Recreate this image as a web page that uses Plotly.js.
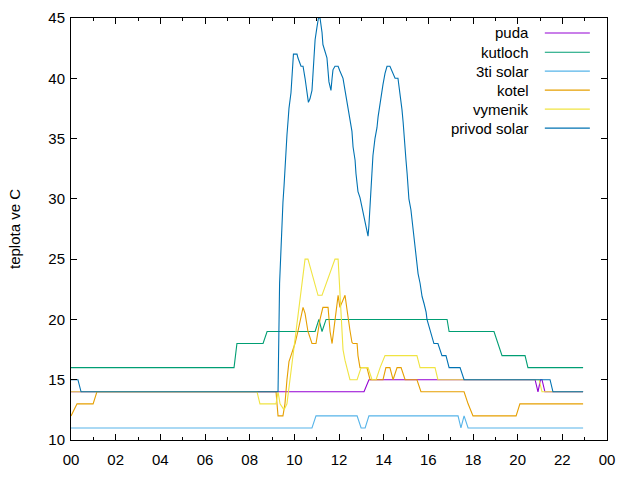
<!DOCTYPE html>
<html><head><meta charset="utf-8">
<script src="https://cdn.plot.ly/plotly-3.0.1.min.js"></script>
<style>html,body{margin:0;padding:0;background:#fff}#chart{width:640px;height:480px}</style>
</head><body><div id="chart"></div>
<script>
// Hours of day (0-24) and temperatures (°C)
const seriesNames = ["puda", "kutloch", "3ti solar", "kotel", "vymenik", "privod solar"];
const seriesColors = ["#9400d3", "#009e73", "#56b4e9", "#e69f00", "#f0e442", "#0072b2"];

const pudaT = [0, 13.12, 13.34, 20.78, 20.91, 21.02, 21.09, 21.22, 22.93];
const pudaV = [14, 14, 15, 15, 14, 15, 15, 14, 14];

const kutlochT = [0, 7.30, 7.43, 8.60, 8.78, 10.93, 11.10, 11.24, 11.42, 16.84, 16.93, 18.94, 19.30, 20.33, 20.46, 22.93];
const kutlochV = [16, 16, 18, 18, 19, 19, 20, 19, 20, 20, 19, 19, 17, 17, 16, 16];

const solar3T = [0, 10.79, 10.97, 12.81, 12.99, 13.17, 13.34, 17.33, 17.46, 17.60, 17.78, 22.93];
const solar3V = [11, 11, 12, 12, 11, 11, 12, 12, 11, 12, 11, 11];

const kotelT = [0, 0.27, 0.99, 1.16, 9.18, 9.27, 9.49, 9.58, 9.67, 9.76, 9.85, 10.03, 10.16, 10.39, 10.48, 10.61, 10.79, 10.97, 11.15, 11.28, 11.51, 11.60, 11.69, 11.82, 11.96, 12.04, 12.27, 12.36, 12.40, 12.49, 12.58, 12.63, 12.81, 12.85, 12.94, 13.25, 13.39, 13.97, 14.10, 14.28, 14.42, 14.60, 14.78, 14.96, 15.49, 15.67, 17.60, 17.78, 18.00, 19.93, 20.10, 22.93];
const kotelV = [12, 13, 13, 14, 14, 12, 12, 13, 15, 16.5, 17, 18, 19, 21, 20.5, 19, 18, 18, 20, 21, 21, 19, 18, 20, 22, 21, 22, 20.8, 20.2, 19.1, 18.1, 18, 18, 17, 16, 16, 15, 15, 16, 16, 15, 16, 16, 15, 15, 14, 14, 13, 12, 12, 13, 13];

const vymenikT = [0, 8.33, 8.46, 9.18, 9.27, 9.36, 9.54, 9.67, 10.48, 10.61, 11.06, 11.24, 11.82, 11.96, 12.18, 12.27, 12.49, 12.81, 12.99, 13.30, 13.48, 13.66, 13.84, 14.06, 15.49, 15.63, 16.30, 16.43, 20.96, 21.09, 22.93];
const vymenikV = [14, 14, 13, 13, 14, 13, 12.5, 13, 25, 25, 22, 22, 25, 25, 17.5, 16.6, 15, 15, 16, 16, 15, 15, 16, 17, 17, 16, 16, 15, 15, 14, 14];

const privodT = [0, 0.31, 0.45, 9.27, 9.34, 9.40, 9.45, 9.49, 9.54, 9.58, 9.63, 9.67, 9.72, 9.76, 9.85, 9.90, 9.94, 9.96, 10.12, 10.16, 10.30, 10.39, 10.48, 10.57, 10.63, 10.70, 10.79, 10.88, 10.93, 11.01, 11.08, 11.15, 11.24, 11.28, 11.37, 11.46, 11.55, 11.64, 11.69, 11.73, 11.82, 11.96, 12.04, 12.18, 12.27, 12.36, 12.45, 12.58, 12.63, 12.72, 12.76, 12.81, 12.85, 12.94, 13.03, 13.07, 13.16, 13.25, 13.30, 13.34, 13.39, 13.43, 13.48, 13.52, 13.61, 13.70, 13.75, 13.84, 13.93, 13.97, 14.06, 14.15, 14.28, 14.37, 14.42, 14.51, 14.64, 14.69, 14.78, 14.82, 14.87, 14.91, 14.96, 15.00, 15.05, 15.09, 15.13, 15.22, 15.27, 15.31, 15.36, 15.40, 15.45, 15.49, 15.54, 15.63, 15.67, 15.72, 15.81, 15.90, 15.94, 16.03, 16.12, 16.21, 16.25, 16.43, 16.52, 16.61, 16.79, 16.88, 16.93, 17.42, 17.51, 17.60, 21.45, 21.58, 22.93];
const privodV = [15, 15, 14, 14, 23, 26, 27, 29.7, 31.1, 32.6, 34.2, 35.3, 36.5, 37.5, 38.8, 40, 41.3, 42, 42, 41.7, 41, 41, 40, 39, 38, 38.3, 39, 41.7, 43.2, 44.2, 45, 45, 43.8, 42.8, 42.2, 41.7, 39.7, 39, 40, 40.7, 41, 41, 40.6, 40, 39, 38, 37, 35.6, 34.3, 33.2, 32.1, 31.1, 30.6, 30.1, 29.3, 28.7, 28, 27.4, 26.9, 27.8, 29.3, 31, 33, 33.6, 35, 35.9, 36.8, 38, 38.8, 39.5, 40.4, 41, 41, 40.6, 40.3, 40, 40, 39.3, 38.4, 37.4, 36.4, 35.2, 34.3, 33.2, 32.1, 31, 30, 29.1, 28.2, 27.4, 26.6, 25.9, 25.2, 24.3, 23.8, 23, 22.4, 21.9, 21.3, 20.6, 20, 19.4, 18.7, 18.3, 18, 18, 17.5, 17, 17, 16.4, 16, 16, 15.5, 15, 15, 14, 14];

const xTickVals = [0, 2, 4, 6, 8, 10, 12, 14, 16, 18, 20, 22, 24];
const xTickText = ["00", "02", "04", "06", "08", "10", "12", "14", "16", "18", "20", "22", "00"];
const yTickVals = [10, 15, 20, 25, 30, 35, 40, 45];

const allT = [pudaT, kutlochT, solar3T, kotelT, vymenikT, privodT];
const allV = [pudaV, kutlochV, solar3V, kotelV, vymenikV, privodV];

const FONT = "Liberation Sans, Arial, sans-serif";
const FS = 15;
const traces = allT.map((t, i) => ({
  x: t, y: allV[i], type: "scatter", mode: "lines", name: seriesNames[i],
  line: {color: seriesColors[i], width: 1.1}, hoverinfo: "skip", showlegend: false
}));

// custom gnuplot-like legend (text right-aligned, sample line to the right)
const legendRowsY = [0.9645, 0.919, 0.874, 0.829, 0.784, 0.739];
const annotations = seriesNames.map((n, i) => ({
  xref: "paper", yref: "paper", x: 0.858, y: legendRowsY[i], xanchor: "right", yanchor: "middle",
  text: n, showarrow: false, font: {family: FONT, size: FS, color: "#000"}
}));
const shapes = seriesNames.map((n, i) => ({
  type: "line", xref: "paper", yref: "paper", x0: 0.884, x1: 0.968, y0: legendRowsY[i], y1: legendRowsY[i],
  line: {color: seriesColors[i], width: 1.1}
}));

const layout = {
  width: 640, height: 480,
  margin: {l: 71, r: 33, t: 18, b: 40, pad: 0},
  paper_bgcolor: "#fff", plot_bgcolor: "#fff",
  font: {family: FONT, size: FS, color: "#000"},
  xaxis: {
    range: [0, 24], tickvals: xTickVals, ticktext: xTickText,
    ticks: "inside", ticklen: 6, tickwidth: 1, tickcolor: "#000",
    showline: true, linecolor: "#000", linewidth: 1, mirror: "allticks",
    showgrid: false, zeroline: false, ticklabelstandoff: 6,
    minor: {dtick: 1, tick0: 0, ticks: "inside", ticklen: 3, tickcolor: "#000", showgrid: false},
    tickfont: {family: FONT, size: FS, color: "#000"}
  },
  yaxis: {
    range: [10, 45], tickvals: yTickVals,
    ticks: "inside", ticklen: 6, tickwidth: 1, tickcolor: "#000",
    showline: true, linecolor: "#000", linewidth: 1, mirror: "allticks",
    showgrid: false, zeroline: false, ticklabelstandoff: 2,
    tickfont: {family: FONT, size: FS, color: "#000"},
    title: {text: "teplota ve C", font: {family: FONT, size: FS, color: "#000"}, standoff: 24}
  },
  annotations: annotations, shapes: shapes, showlegend: false
};

Plotly.newPlot("chart", traces, layout, {staticPlot: true, displayModeBar: false});
</script></body></html>
